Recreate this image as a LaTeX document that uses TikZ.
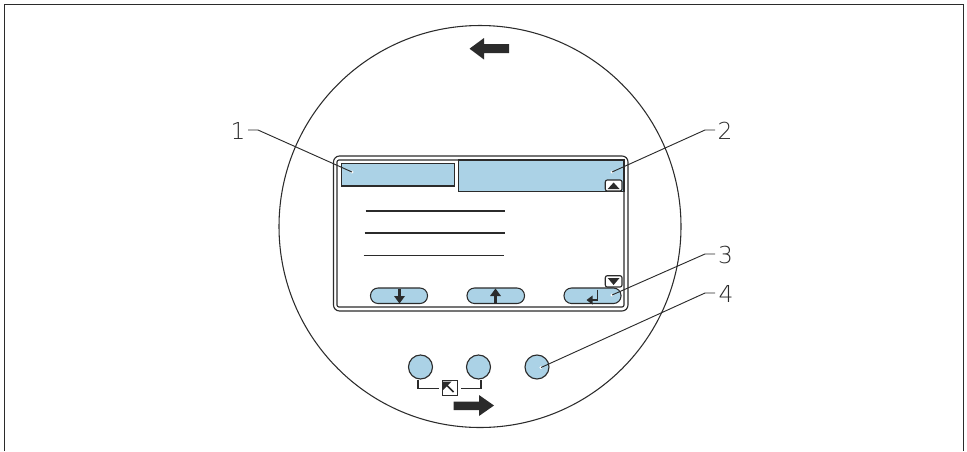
\documentclass[tikz,border=0pt]{standalone}
\usepackage{fontspec}
\setmainfont{DejaVu Sans ExtraLight}
\definecolor{fillblue}{HTML}{ABD2E6}
\definecolor{ink}{HTML}{2B2B2B}
\tikzset{
  x=0.75pt,y=-0.75pt,
  blue box/.style={draw=ink,fill=fillblue,line width=0.95pt},
  pill/.style={draw=ink,fill=fillblue,line width=0.8pt,rounded corners=7.5*0.75pt},
  thin line/.style={draw=ink,line width=0.8pt},
  leader/.style={draw=ink,line width=0.7pt},
  dot/.style={circle,fill=white,inner sep=0pt,minimum size=2.4pt},
  num/.style={font=\fontsize{17.5pt}{20pt}\selectfont,text=ink,inner sep=0pt},
  solid arrow/.style={fill=ink,draw=none},
  knob/.style={circle,draw=ink,fill=fillblue,line width=0.85pt,inner sep=0pt,minimum size=24*0.75pt},
}
\begin{document}
\begin{tikzpicture}
\useasboundingbox (0,0) rectangle (967,451);
% frame (open at the bottom)
\draw[ink,line width=1.2pt] (4.3,451) -- (4.3,4.5) -- (963.5,4.5) -- (963.5,451);
% housing
\draw[ink,line width=0.8pt] (480,226.5) circle [radius=201];
% arrows
\fill[solid arrow] (469.5,48.7) -- (484,38) -- (484,44) -- (509,44) -- (509,53) -- (484,53) -- (484,59.5) -- cycle;
\fill[solid arrow] (494,405.5) -- (479,395) -- (479,401.5) -- (453.5,401.5) -- (453.5,410) -- (479,410) -- (479,416) -- cycle;
% display frame
\draw[ink,line width=0.85pt,rounded corners=4.5pt] (333.5,156) rectangle (628,311);
\draw[ink,line width=0.85pt,rounded corners=1.5pt] (337,160) rectangle (624,307);
% header fields
\path[blue box] (341.7,163.5) rectangle (454.3,186);
\path[blue box] (458.7,160) rectangle (624,191.7);
% scroll buttons
\draw[ink,fill=white,line width=0.85pt,rounded corners=1.5pt] (605.3,180) rectangle (622,191);
\fill[ink] (613.6,182.5) -- (619.5,189) -- (607.7,189) -- cycle;
\draw[ink,fill=white,line width=0.85pt,rounded corners=1.5pt] (605.3,275.7) rectangle (622,287);
\fill[ink] (613.6,285) -- (619.5,278) -- (607.7,278) -- cycle;
% list lines
\draw[thin line] (365.5,211) -- (505,211);
\draw[thin line] (364.5,233) -- (504.5,233);
\draw[thin line] (363.5,255.5) -- (503.5,255.5);
% soft keys
\path[pill] (370.5,288) rectangle (427.5,303.5);
\path[pill] (467,288) rectangle (524.5,303.5);
\path[pill] (564,288) rectangle (621,303.5);
\draw[ink,line width=1.7pt] (399.5,289) -- (399.5,300);
\fill[ink] (399.5,303.5) -- (394,296) -- (405,296) -- cycle;
\draw[ink,line width=1.7pt] (495.5,302.5) -- (495.5,292);
\fill[ink] (495.5,288.5) -- (490,296) -- (501,296) -- cycle;
\draw[ink,line width=1.3pt] (597.5,289.5) -- (597.5,300) -- (591,300);
\fill[ink] (586.5,300) -- (592.5,295.5) -- (592.5,304.5) -- cycle;
% knobs
\node[knob] (k1) at (420.5,367) {};
\node[knob] (k2) at (478.5,367) {};
\node[knob] (k3) at (537,367) {};
% lock icon
\node[draw=ink,line width=1.3pt,fill=white,minimum size=15*0.75pt,inner sep=0pt] (icon) at (450,388) {};
\fill[ink] (443,381.5) -- (451.5,381.5) -- (443,390) -- cycle;
\draw[ink,line width=1.2pt] (446,384.5) -- (453.5,392);
\coordinate (b1) at (418,388.7);
\coordinate (b2) at (481,388.7);
\coordinate (b1e) at (439,388.7);
\coordinate (b2e) at (461,388.7);
\draw[thin line] (418,379.5) -- (b1) -- (b1e);
\draw[thin line] (481,379.5) -- (b2) -- (b2e);
% leaders
\node[num] (n1) at (238,130.5) {1};
\node[num] (n2) at (725,131) {2};
\node[num] (n3) at (725.5,254.5) {3};
\node[num] (n4) at (726,294) {4};
\node[dot] (e1) at (352,172) {};
\node[dot] (e2) at (612,172) {};
\node[dot] (e3) at (612,295) {};
\node[dot] (e4) at (541,367.5) {};
\coordinate (c1) at (258,130);
\coordinate (c2) at (705,130);
\coordinate (c3) at (705,254);
\coordinate (c4) at (705,293);
\coordinate (s1) at (248,130);
\coordinate (s2) at (715,130);
\coordinate (s3) at (715,254);
\coordinate (s4) at (715,293);
\draw[leader] (s1) -- (c1) -- (e1.center);
\draw[leader] (s2) -- (c2) -- (e2.center);
\draw[leader] (s3) -- (c3) -- (e3.center);
\draw[leader] (s4) -- (c4) -- (e4.center);
\end{tikzpicture}
\end{document}
